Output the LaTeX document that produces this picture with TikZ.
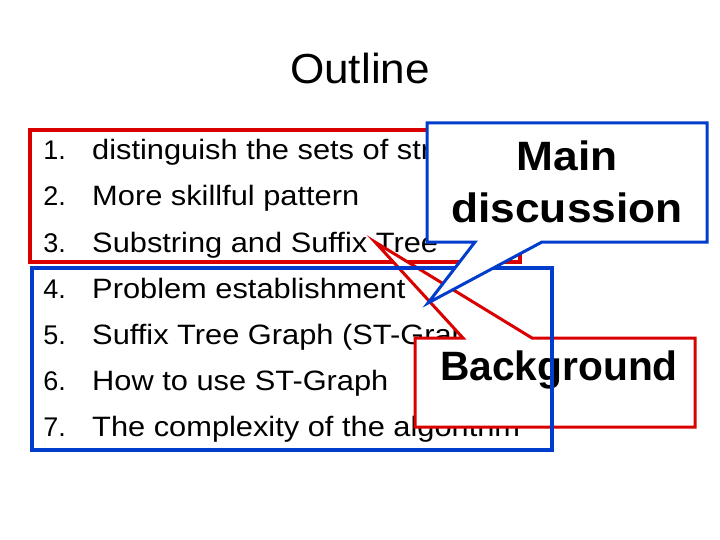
\documentclass[tikz,border=0pt]{standalone}
\usepackage{fontspec}
\setmainfont{Liberation Sans}
\begin{document}
\begin{tikzpicture}[x=1pt,y=-1pt,
  item/.style={anchor=base west,font=\fontsize{28}{30}\selectfont,inner sep=0,xscale=1.1},
  num/.style={anchor=base east,font=\fontsize{27}{30}\selectfont,inner sep=0},
  callt/.style={font=\bfseries\fontsize{41}{52}\selectfont,align=center,inner sep=0,xscale=1.08}]
\useasboundingbox (0,0) rectangle (720,540);
\node[font=\fontsize{42}{44}\selectfont,xscale=1.05] (title) at (360,68) {Outline};
\draw[red!85!black,line width=4] (30,130) rectangle (520,262);
\foreach \n/\t [count=\i from 0] in {1/distinguish the sets of strings,2/More skillful pattern,3/Substring and Suffix Tree,4/Problem establishment,5/Suffix Tree Graph (ST-Graph),6/How to use ST-Graph,7/The complexity of the algorithm}{
  \node[num] (n\n) at (66,160+46*\i) {\n.};
  \node[item] (t\n) at (92,160+46*\i) {\t};
}
\draw[red!85!black,line width=3,fill=white,line join=miter]
  (415,338) -- (463,338) -- (375,242) -- (532,338) -- (695,338) -- (695,427) -- (415,427) -- cycle;
\node[callt,xscale=0.92] (bg) at (559,370) {Background};
\draw[blue!70!cyan!80!black,line width=4] (32,268) rectangle (552,450);
\draw[blue!70!cyan!80!black,line width=3,fill=white,line join=miter]
  (427,123) -- (707,123) -- (707,242) -- (542,242) -- (428,303) -- (475,242) -- (427,242) -- cycle;
\node[callt] (md) at (567,182) {Main\\discussion};
\end{tikzpicture}
\end{document}
